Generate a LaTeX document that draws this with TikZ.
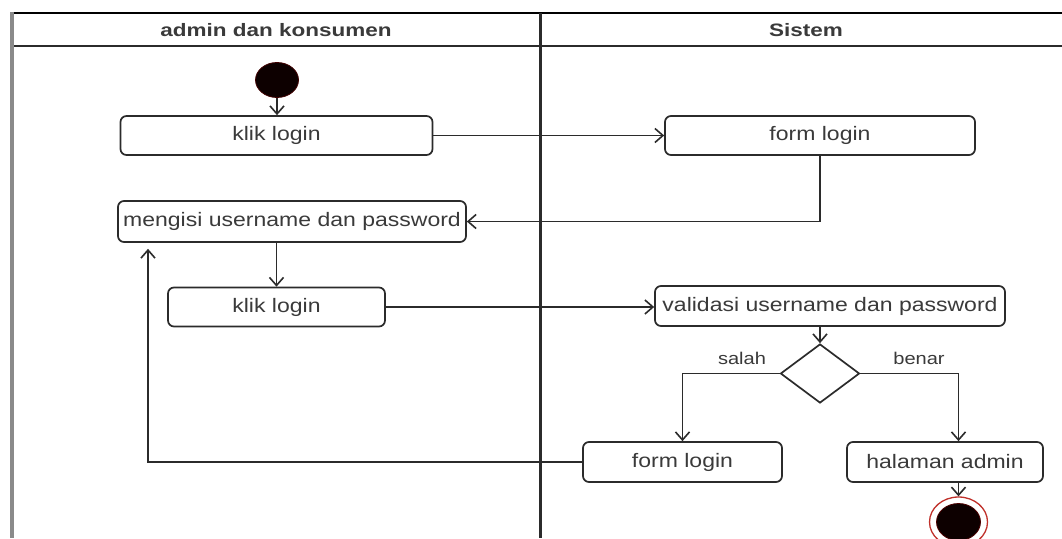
\documentclass[tikz,border=0pt]{standalone}
\usepackage{fontspec}
\setmainfont{Liberation Sans}
\newfontfamily\actfont[FakeStretch=1.18]{Liberation Sans}
\newfontfamily\lanehead[FakeStretch=1.25]{Liberation Sans}
\usetikzlibrary{arrows.meta,shapes.geometric}

\definecolor{ink}{HTML}{2B2B2B}
\definecolor{txt}{HTML}{3A3A3A}
\definecolor{laneedge}{HTML}{8A8A8A}
\definecolor{finred}{HTML}{C0302A}

\tikzset{
  act/.style={draw=ink, line width=1.7pt, rounded corners=6pt, fill=white,
    inner sep=0pt, text=txt, font=\actfont\fontsize{19.5}{22}\selectfont},
  guard/.style={text=txt, inner sep=0pt, font=\actfont\fontsize{17}{20}\selectfont},
  head/.style={text=txt, inner sep=0pt, font=\lanehead\bfseries\fontsize{18}{21}\selectfont},
  decision/.style={diamond, draw=ink, line width=1.7pt, fill=white, inner sep=0pt,
    minimum width=79pt, minimum height=59pt, aspect=1.34},
  startnode/.style={ellipse, fill=black!95!red, draw=red!25!black, line width=0.8pt,
    minimum width=43pt, minimum height=35pt, inner sep=0pt},
  finnode/.style={ellipse, draw=finred, line width=1.3pt, fill=white,
    minimum width=58pt, minimum height=50pt, inner sep=0pt},
  flow/.style={draw=ink, line width=1.8pt,
    -{Straight Barb[length=8pt,width=14pt,line width=1.6pt]}},
}

\begin{document}
\begin{tikzpicture}[x=1pt,y=-1pt]
\useasboundingbox (0,0) rectangle (1062,538);
\fill[white] (0,0) rectangle (1062,538);

% swimlane frame
\draw[black, line width=2pt] (11,13) -- (1062,13);
\draw[ink, line width=2.4pt] (11,46) -- (1062,46);
\draw[laneedge, line width=3.2pt] (12,12) -- (12,538);
\draw[ink, line width=3pt] (540,13) -- (540,538);
\node[head] (laneA) at (276,30) {admin dan konsumen};
\node[head] (laneB) at (806,30) {Sistem};

% activities
\node[startnode] (start) at (277,80) {};
\node[act, minimum width=312pt, minimum height=39pt] (klik1) at (276.5,135.5) {klik login};
\node[act, minimum width=310pt, minimum height=39pt] (form1) at (820,135.5) {form login};
\node[act, minimum width=348pt, minimum height=41pt] (isi) at (292,221.5) {mengisi username dan password};
\node[act, minimum width=217pt, minimum height=39pt] (klik2) at (276.5,307) {klik login};
\node[act, minimum width=350pt, minimum height=40pt] (valid) at (830,306) {validasi username dan password};
\node[decision] (dec) at (820,373.5) {};
\node[act, minimum width=199pt, minimum height=40pt] (form2) at (682.5,462) {form login};
\node[act, minimum width=196pt, minimum height=40pt] (admin) at (945,462) {halaman admin};
\node[finnode] (fin) at (958.5,522) {};
\fill[black!95!red, draw=red!30!black, line width=0.8pt] (fin.center) ellipse (22pt and 18.5pt);

\node[guard] (gsalah) at (742,358) {salah};
\node[guard] (gbenar) at (919,358) {benar};

\coordinate (back) at (148,462);

% control flow
\draw[flow] (start) -- (klik1.north -| start);
\draw[flow] (klik1) -- (form1);
\draw[flow] (form1.south) |- (isi.east);
\draw[flow] (klik2.north |- isi.south) -- (klik2.north);
\draw[flow] (klik2.east) -- (klik2.east -| valid.west);
\draw[flow] (dec.north |- valid.south) -- (dec.north);
\draw[flow] (dec.west) -| (form2.north);
\draw[flow] (dec.east) -| (admin.north -| fin);
\draw[flow] (admin.south -| fin) -- (fin.north);
\draw[flow, shorten >=6pt] (form2.west) -- (back) -- (back |- isi.south);
\end{tikzpicture}
\end{document}
